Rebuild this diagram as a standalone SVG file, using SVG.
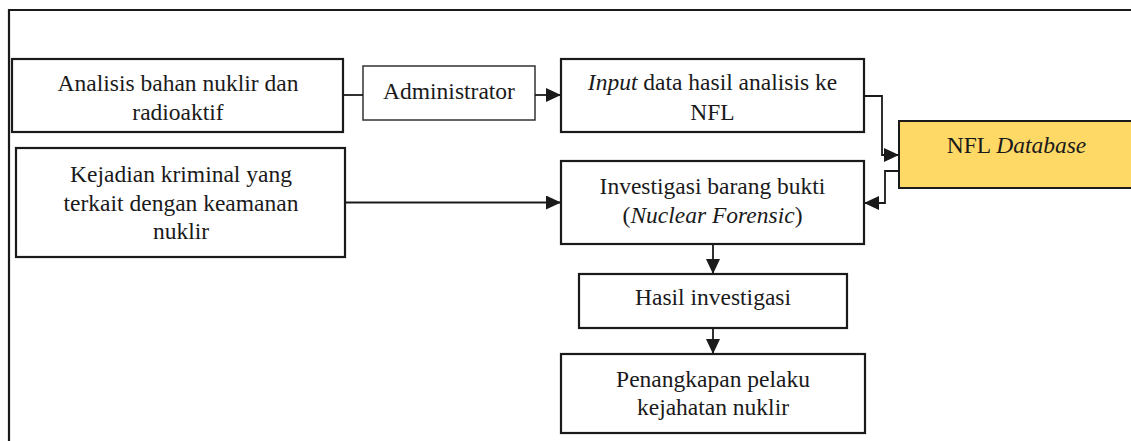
<svg xmlns="http://www.w3.org/2000/svg" width="1131" height="441" viewBox="0 0 1131 441">
<style>
  .box { fill: #ffffff; stroke: #1a1a1a; stroke-width: 2.2; }
  .thin { fill: #ffffff; stroke: #333333; stroke-width: 1.5; }
  .db { fill: #FFD966; stroke: #1a1a1a; stroke-width: 2; }
  .conn { fill: none; stroke: #1a1a1a; stroke-width: 1.8; }
</style>
<defs>
  <marker id="arr" markerUnits="userSpaceOnUse" markerWidth="15" markerHeight="14" refX="15" refY="7" orient="auto">
    <path d="M0,0 L15,7 L0,14 Z" fill="#1a1a1a"/>
  </marker>
</defs>
<rect x="0" y="0" width="1131" height="441" fill="#ffffff"/>
<path d="M9,441 V10 H1131" fill="none" stroke="#1a1a1a" stroke-width="2.2"/>

<g font-family="Liberation Serif, serif" font-size="23.5" fill="#1a1a1a" text-anchor="middle">
<g id="analisis">
  <rect class="box" x="12" y="59" width="331" height="73" stroke-width="2.6"/>
  <text x="178" y="91">Analisis bahan nuklir dan</text>
  <text x="178" y="120">radioaktif</text>
</g>
<g id="administrator">
  <rect class="thin" x="363" y="66" width="172" height="54"/>
  <text x="449" y="99">Administrator</text>
</g>
<g id="input">
  <rect class="box" x="561" y="59" width="303" height="73"/>
  <text x="712.5" y="90"><tspan font-style="italic">Input</tspan> data hasil analisis ke</text>
  <text x="712.5" y="120">NFL</text>
</g>
<g id="nfl-database">
  <rect class="db" x="899" y="121" width="240" height="67"/>
  <text x="1016.5" y="153">NFL <tspan font-style="italic">Database</tspan></text>
</g>
<g id="kejadian">
  <rect class="box" x="16" y="148" width="329" height="109"/>
  <text x="181" y="182">Kejadian kriminal yang</text>
  <text x="181" y="210.5">terkait dengan keamanan</text>
  <text x="181" y="239">nuklir</text>
</g>
<g id="investigasi">
  <rect class="box" x="561" y="161" width="303" height="83"/>
  <text x="712.5" y="193.5">Investigasi barang bukti</text>
  <text x="712.5" y="222.5">(<tspan font-style="italic">Nuclear Forensic</tspan>)</text>
</g>
<g id="hasil">
  <rect class="box" x="579" y="274" width="268" height="54"/>
  <text x="713" y="305">Hasil investigasi</text>
</g>
<g id="penangkapan">
  <rect class="box" x="561" y="354" width="304" height="79"/>
  <text x="713" y="387">Penangkapan pelaku</text>
  <text x="713" y="415">kejahatan nuklir</text>
</g>
</g>

<g id="connectors">
  <path class="conn" d="M343,95 H363"/>
  <path class="conn" d="M535,95 H561" marker-end="url(#arr)"/>
  <path class="conn" d="M345,202.5 H561" marker-end="url(#arr)"/>
  <path class="conn" d="M864,96 H882 V155 H899" marker-end="url(#arr)"/>
  <path class="conn" d="M899,171 H885 V203 H864" marker-end="url(#arr)"/>
  <path class="conn" d="M713,244 V274" marker-end="url(#arr)"/>
  <path class="conn" d="M713,328 V354" marker-end="url(#arr)"/>
</g>
</svg>
